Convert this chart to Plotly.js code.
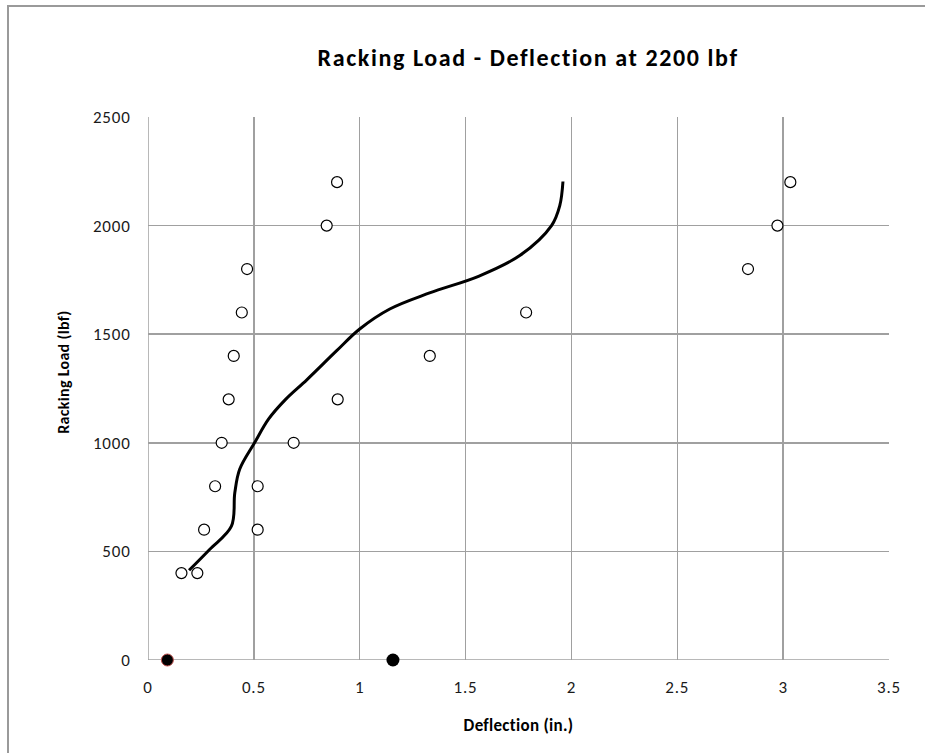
<!DOCTYPE html>
<html>
<head>
<meta charset="utf-8">
<script src="https://cdn.plot.ly/plotly-3.0.1.min.js"></script>
<style>
  html, body { margin: 0; padding: 0; background: #fff; }
  #frame { position: absolute; left: 7px; top: 5px; width: 930px; height: 760px; border-left: 2px solid #9a9a9a; border-top: 2px solid #9a9a9a; box-sizing: border-box; }
  #chart { position: absolute; left: 0; top: 0; width: 925px; height: 753px; }
  #chart .gtitle { letter-spacing: 1.6px; }
  #chart .xtick text, #chart .ytick text { letter-spacing: 0.8px; }
  #chart .xtitle, #chart .annotation-text { letter-spacing: 0.3px; }
</style>
</head>
<body>
<div id="frame"></div>
<div id="chart"></div>
<script>
// Test data (open circles)
const testDeflection = [0.158, 0.233, 0.265, 0.518, 0.317, 0.518, 0.348, 0.688, 0.381, 0.896, 0.405, 1.331, 0.443, 1.786, 0.468, 2.834, 0.844, 2.973, 0.893, 3.034];
const testLoad       = [400,   400,   600,   600,   800,   800,   1000,  1000,  1200,  1200,  1400,  1400,  1600,  1600,  1800,  1800,  2000,  2000,  2200,  2200];

// Average curve
const curveDeflection = [0.194, 0.291, 0.394, 0.41, 0.433, 0.504, 0.57, 0.65, 0.75, 0.89, 1.0, 1.142, 1.33, 1.567, 1.756, 1.906, 1.945, 1.96];
const curveLoad       = [413,   509,   616,   770,  878,   1001,  1110, 1200, 1290, 1423, 1524, 1616, 1690, 1769, 1862, 2000, 2092, 2203];

// Deflection at 2200 lbf markers
const markRedX = [0.0915];
const markRedY = [0];
const markBlackX = [1.157];
const markBlackY = [0];

const xTicks = [0, 0.5, 1, 1.5, 2, 2.5, 3, 3.5];
const xTickLabels = ['0', '0.5', '1', '1.5', '2', '2.5', '3', '3.5'];
const yTicks = [0, 500, 1000, 1500, 2000, 2500];
const yTickLabels = ['0', '500', '1000', '1500', '2000', '2500'];

const fontFam = 'Carlito, Calibri, "Open Sans", sans-serif';

const traces = [
  {
    x: testDeflection, y: testLoad, type: 'scatter', mode: 'markers',
    marker: { symbol: 'circle', size: 11, color: '#ffffff', line: { color: '#000000', width: 1.2 } },
    hoverinfo: 'skip', showlegend: false
  },
  {
    x: curveDeflection, y: curveLoad, type: 'scatter', mode: 'lines',
    line: { color: '#000000', width: 3, shape: 'spline', smoothing: 1 },
    hoverinfo: 'skip', showlegend: false
  },
  {
    x: markRedX, y: markRedY, type: 'scatter', mode: 'markers', cliponaxis: false,
    marker: { symbol: 'circle', size: 12, color: '#000000', line: { color: '#c0504d', width: 1 } },
    hoverinfo: 'skip', showlegend: false
  },
  {
    x: markBlackX, y: markBlackY, type: 'scatter', mode: 'markers', cliponaxis: false,
    marker: { symbol: 'circle', size: 13, color: '#000000', line: { color: '#000000', width: 0 } },
    hoverinfo: 'skip', showlegend: false
  }
];

const layout = {
  width: 925, height: 753,
  margin: { l: 148, r: 36, t: 117, b: 93 },
  paper_bgcolor: 'rgba(0,0,0,0)',
  plot_bgcolor: '#ffffff',
  font: { family: fontFam, color: '#404040', size: 17 },
  title: {
    text: '<b>Racking Load - Deflection at 2200 lbf</b>',
    font: { family: fontFam, size: 24, color: '#000000' },
    x: 0.513, xanchor: 'center', y: 0.923, yanchor: 'middle', xref: 'paper', yref: 'container'
  },
  xaxis: {
    range: [0, 3.5], tickvals: xTicks, ticktext: xTickLabels,
    showgrid: true, gridcolor: '#a0a0a0', gridwidth: 1.5,
    zeroline: false, showline: false,
    ticks: 'outside', ticklen: 12, tickcolor: 'rgba(0,0,0,0)',
    tickfont: { family: fontFam, size: 17, color: '#1a1a1a' },
    title: { text: '<b>Deflection (in.)</b>', font: { family: fontFam, size: 17, color: '#000000' }, standoff: 21 },
    fixedrange: true
  },
  yaxis: {
    range: [0, 2500], tickvals: yTicks, ticktext: yTickLabels,
    showgrid: true, gridcolor: '#a0a0a0', gridwidth: 1.5,
    zeroline: false, showline: false,
    ticks: 'outside', ticklen: 13, tickcolor: 'rgba(0,0,0,0)',
    tickfont: { family: fontFam, size: 17, color: '#1a1a1a' },
    fixedrange: true
  },
  annotations: [
    {
      text: '<b>Racking Load (lbf)</b>', textangle: -90, showarrow: false,
      xref: 'paper', yref: 'paper', x: -0.115, y: 0.530, xanchor: 'center', yanchor: 'middle',
      font: { family: fontFam, size: 16, color: '#000000' }
    }
  ],
  shapes: [
    { type: 'line', xref: 'x', yref: 'paper', x0: 0, x1: 0, y0: 0, y1: 1, line: { color: '#a0a0a0', width: 1.5 }, layer: 'below' },
    { type: 'line', xref: 'paper', yref: 'y', x0: 0, x1: 1, y0: 0, y1: 0, line: { color: '#a0a0a0', width: 1.5 }, layer: 'below' }
  ]
};

Plotly.newPlot('chart', traces, layout, { displayModeBar: false, staticPlot: true });
</script>
</body>
</html>
